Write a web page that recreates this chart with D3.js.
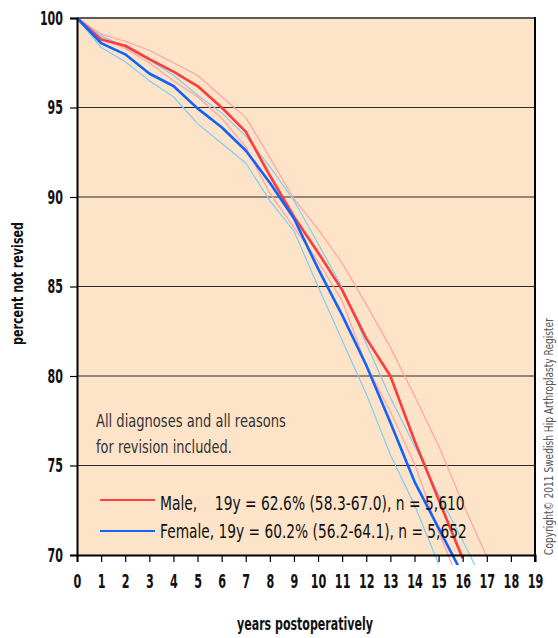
<!DOCTYPE html>
<html><head><meta charset="utf-8">
<script src="https://cdn.jsdelivr.net/npm/d3@7"></script>
<style>
html,body{margin:0;padding:0;background:#fff;}
svg text{font-family:"DejaVu Sans",sans-serif;}
</style></head>
<body><svg id="c" width="558" height="638"></svg>
<script>
const years = d3.range(0, 20);
const yTicks = [70, 75, 80, 85, 90, 95, 100];
const maleValues   = [100, 98.8, 98.45, 97.7, 97.0, 96.2, 95.0, 93.65, 91.2, 88.9, 86.9, 84.8, 82.1, 80.0, 76.4, 73.1, 69.8];
const maleUpper    = [100, 99.1, 98.7, 98.2, 97.5, 96.8, 95.6, 94.45, 92.2, 89.9, 88.2, 86.3, 84.0, 81.6, 78.9, 76.1, 72.9, 69.9];
const maleLower    = [100, 98.9, 98.3, 97.5, 96.5, 95.6, 94.4, 92.8, 90.2, 88.3, 86.4, 84.2, 80.6, 78.0, 75.1, 71.3, 68.0];
const femaleValues = [100, 98.6, 97.97, 96.9, 96.2, 94.95, 93.9, 92.6, 90.8, 88.8, 86.0, 83.4, 80.6, 77.4, 74.1, 71.5, 68.9];
const femaleUpper  = [100, 99.0, 98.4, 97.65, 96.8, 95.7, 94.7, 93.4, 91.7, 89.8, 87.4, 84.95, 81.8, 78.8, 76.1, 73.4, 70.8, 68.1];
const femaleLower  = [100, 98.35, 97.56, 96.5, 95.6, 94.1, 93.0, 91.9, 89.8, 88.1, 85.0, 82.0, 79.0, 75.6, 72.8, 69.5];
const annotation = ["All diagnoses and all reasons", "for revision included."];
const legendLabels = ["Male,    19y = 62.6% (58.3-67.0), n = 5,610", "Female, 19y = 60.2% (56.2-64.1), n = 5,652"];
const xTitle = "years postoperatively";
const yTitle = "percent not revised";
const copyright = "Copyright© 2011 Swedish Hip Arthroplasty Register";

const svg = d3.select("#c");
const L = 77, R = 535, T = 18, B = 555;
const x = d3.scaleLinear().domain([0, 19]).range([L, R]);
const y = d3.scaleLinear().domain([70, 100]).range([B, T]);

// place a text at (px,py), optionally rotated, squeezed horizontally to width w
function squeeze(sel, px, py, w, rot) {
  sel.attr("x", 0).attr("y", 0);
  const n = sel.node().getComputedTextLength();
  const s = w / n;
  sel.attr("transform", `translate(${px},${py})${rot ? ` rotate(${rot})` : ""} scale(${s},1)`);
  return sel;
}

svg.append("rect").attr("x", L).attr("y", T).attr("width", R - L).attr("height", B - T).attr("fill", "#fde3c8");

// gridlines
svg.append("g").selectAll("line").data(yTicks.filter(d => d > 70 && d < 100)).join("line")
  .attr("x1", L).attr("x2", R).attr("y1", d => y(d)).attr("y2", d => y(d))
  .attr("stroke", "#2a2a2a").attr("stroke-width", 1.2);
svg.append("line").attr("x1", L).attr("x2", R).attr("y1", y(100)).attr("y2", y(100))
  .attr("stroke", "#5a5a5a").attr("stroke-width", 2);

// annotation
const annW = [190, 136];
annotation.forEach((t, i) => {
  const el = svg.append("text").attr("font-size", 18).attr("fill", "#333").text(t);
  squeeze(el, 96, 427 + i * 25.5, annW[i]);
});

// clip
svg.append("clipPath").attr("id", "clip").append("rect")
  .attr("x", L).attr("y", T - 2).attr("width", R - L).attr("height", 565 - T + 2);

const line = d3.line().x((d, i) => x(i)).y(d => y(d));
const g = svg.append("g").attr("clip-path", "url(#clip)");
const series = [
  {v: maleUpper, c: "#ffa3a3", w: 1.2},
  {v: maleLower, c: "#ffa3a3", w: 1.2},
  {v: femaleUpper, c: "#7fcdf2", w: 1.2},
  {v: femaleLower, c: "#7fcdf2", w: 1.2},
  {v: maleValues, c: "#ff3b3b", w: 2.6},
  {v: femaleValues, c: "#0f62ff", w: 2.6}
];
g.selectAll("path").data(series).join("path")
  .attr("d", d => line(d.v)).attr("fill", "none")
  .attr("stroke", d => d.c).attr("stroke-width", d => d.w).attr("stroke-linejoin", "round");

// axes
const yAxis = svg.append("g").attr("transform", `translate(${L},0)`)
  .call(d3.axisLeft(y).tickValues(yTicks).tickSize(7).tickPadding(7).tickFormat(d3.format("d")));
yAxis.select(".domain").attr("stroke", "#000").attr("stroke-width", 2);
yAxis.selectAll(".tick line").attr("stroke", "#000").attr("stroke-width", 1.2);
yAxis.selectAll(".tick text").attr("font-size", 19).attr("font-weight", "bold").attr("fill", "#111")
  .style("font-family", '"DejaVu Sans",sans-serif')
  .each(function(d) {
    const t = d3.select(this).attr("x", 0);
    const s = String(d).length * 7.7 / this.getComputedTextLength();
    t.attr("transform", `translate(-14,0) scale(${s},1)`);
  });

const xAxis = svg.append("g").attr("transform", `translate(0,${B})`)
  .call(d3.axisBottom(x).tickValues(years).tickSize(7).tickPadding(12).tickFormat(d3.format("d")));
xAxis.select(".domain").attr("stroke", "#000").attr("stroke-width", 2);
xAxis.selectAll(".tick line").attr("stroke", "#000").attr("stroke-width", 1.2);
xAxis.selectAll(".tick text").attr("font-size", 20).attr("font-weight", "bold").attr("fill", "#111")
  .style("font-family", '"DejaVu Sans",sans-serif')
  .each(function(d) {
    const s = String(d).length * 7.8 / this.getComputedTextLength();
    d3.select(this).attr("transform", `scale(${s},1)`);
  });

// right border
svg.append("line").attr("x1", R).attr("x2", R).attr("y1", T - 1).attr("y2", B + 7)
  .attr("stroke", "#000").attr("stroke-width", 2);

// titles
squeeze(svg.append("text").attr("text-anchor", "middle").attr("font-size", 17).attr("font-weight", "bold")
  .attr("fill", "#111").text(xTitle), 305, 630, 136);
squeeze(svg.append("text").attr("text-anchor", "middle").attr("font-size", 15).attr("font-weight", "bold")
  .attr("fill", "#111").text(yTitle), 23, 283.5, 123, -90);
squeeze(svg.append("text").attr("text-anchor", "middle").attr("font-size", 13)
  .attr("fill", "#555").text(copyright), 553, 436.5, 237, -90);

// legend
const legColors = ["#ff4040", "#1565ff"];
const legLineY = [500, 531];
const legBase = [510, 537.5];
const legW = [305, 307];
legendLabels.forEach((t, i) => {
  svg.append("line").attr("x1", 100).attr("x2", 155).attr("y1", legLineY[i]).attr("y2", legLineY[i])
    .attr("stroke", legColors[i]).attr("stroke-width", 2.2);
  const el = svg.append("text").attr("font-size", 20).attr("fill", "#111")
    .attr("xml:space", "preserve").style("white-space", "pre").text(t);
  squeeze(el, 160, legBase[i], legW[i]);
});
</script></body></html>
